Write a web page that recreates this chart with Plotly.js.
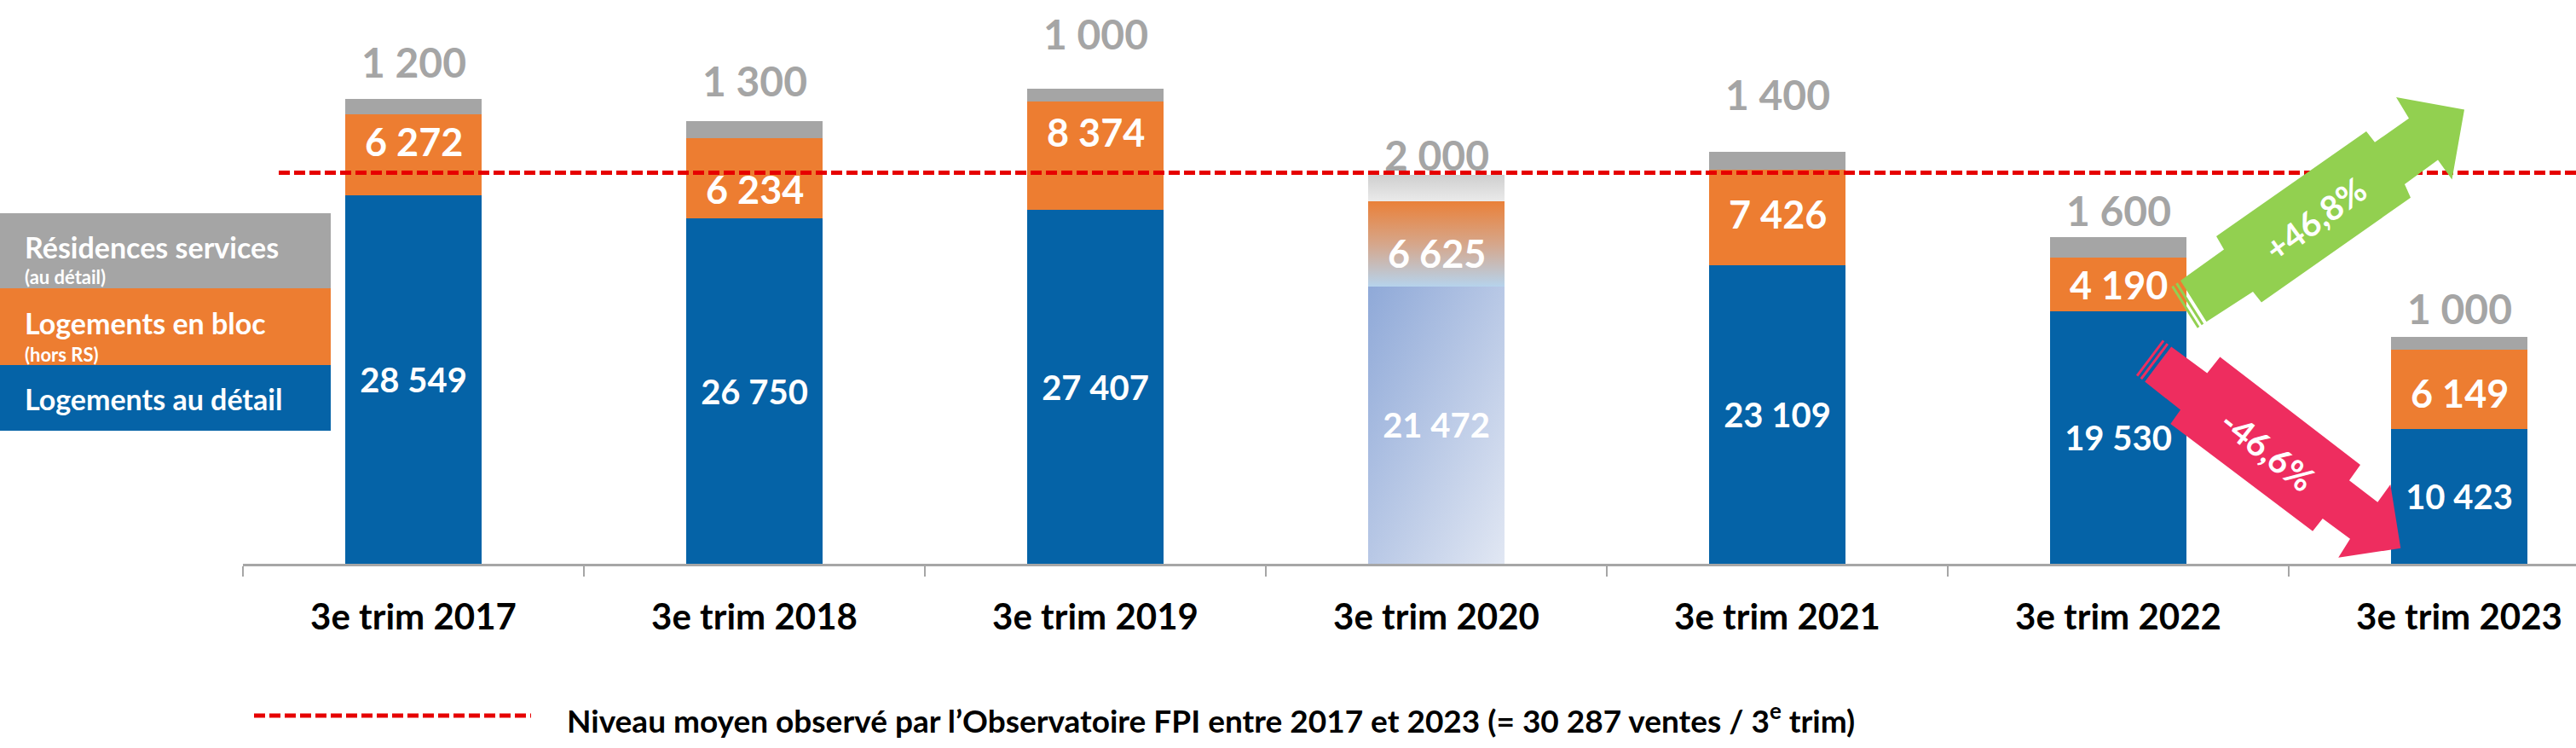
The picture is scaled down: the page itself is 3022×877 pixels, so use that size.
<!DOCTYPE html>
<html>
<head>
<meta charset="utf-8">
<script src="https://cdn.plot.ly/plotly-3.0.1.min.js"></script>
<style>
  html, body { margin: 0; padding: 0; background: #fff; }
  #chart { width: 3022px; height: 877px; }
</style>
</head>
<body>
<div id="chart"></div>
<script>
// Ventes du 3e trimestre par type (Observatoire FPI)
const CATEGORIES = ['3e trim 2017', '3e trim 2018', '3e trim 2019', '3e trim 2020', '3e trim 2021', '3e trim 2022', '3e trim 2023'];
const DETAIL = [28549, 26750, 27407, 21472, 23109, 19530, 10423];   // Logements au détail
const BLOC = [6272, 6234, 8374, 6625, 7426, 4190, 6149];            // Logements en bloc (hors RS)
const RS = [1200, 1300, 1000, 2000, 1400, 1600, 1000];              // Résidences services
const AVG = 30287;
const CHANGE_UP = '+46,8%';
const CHANGE_DOWN = '-46,6%';
const FADED = '3e trim 2020';

const FONT = 'Lato, "Liberation Sans", sans-serif';
const BLUE = '#0563A7', ORANGE = '#ED7D31', GREY = '#A5A5A5';

// page geometry (pixels)
const W = 3022, H = 877;
const ML = 285, BASE = 661;         // left margin, y of the x axis
const PW = W - ML;
const Y_MAX = BASE / 0.01514;

// label nudges, in pixels (as placed on the original)
const GREY_SHIFT = [43, 47, 65, 24, 67, 31, 33];
const ORANGE_SHIFT = [15, -13, 28, -11, 4, 0, -4];

function fmt(n) {
    return String(n).replace(/\B(?=(\d{3})+(?!\d))/g, ' ');
}
function px(x) { return (x - ML) / PW; }
function py(y) { return (BASE - y) / BASE; }
function pathOf(pts) {
    return 'M' + pts.map(p => px(p[0]).toFixed(5) + ',' + py(p[1]).toFixed(5)).join('L') + 'Z';
}
function stripe(a, b, dir, off, w) {
    const s = (p, k) => [p[0] - dir[0] * k, p[1] - dir[1] * k];
    return [s(a, off), s(b, off), s(b, off + w), s(a, off + w)];
}

const totals = DETAIL.map((d, i) => d + BLOC[i] + RS[i]);

var data = [
    {
        type: 'bar', x: CATEGORIES, y: DETAIL, name: 'Logements au détail',
        marker: { color: BLUE, line: { width: 0 } },
        text: DETAIL.map(fmt), textposition: 'inside', insidetextanchor: 'middle',
        textfont: { family: FONT, size: 40, color: '#fff', weight: 700 },
        constraintext: 'none', hoverinfo: 'none'
    },
    {
        type: 'bar', x: CATEGORIES, y: BLOC, name: 'Logements en bloc',
        marker: { color: ORANGE, line: { width: 0 } }, hoverinfo: 'none'
    },
    {
        type: 'bar', x: CATEGORIES, y: RS, name: 'Résidences services',
        marker: { color: GREY, line: { width: 0 } }, hoverinfo: 'none'
    }
];

var annotations = [];
CATEGORIES.forEach((c, i) => {
    annotations.push({
        x: c, y: DETAIL[i] + BLOC[i] / 2, xref: 'x', yref: 'y',
        text: fmt(BLOC[i]), showarrow: false, xanchor: 'center', yanchor: 'middle', yshift: ORANGE_SHIFT[i],
        font: { family: FONT, size: 45, color: '#fff', weight: 700 }
    });
    annotations.push({
        x: c, y: totals[i], xref: 'x', yref: 'y',
        text: fmt(RS[i]), showarrow: false, xanchor: 'center', yanchor: 'middle', yshift: GREY_SHIFT[i],
        font: { family: FONT, size: 48, color: GREY, weight: 700 }
    });
});

// legend box on the left
const legendRows = [
    { text: 'Résidences services', y: 289, size: 34 },
    { text: '(au détail)', y: 324, size: 22 },
    { text: 'Logements en bloc', y: 378, size: 34 },
    { text: '(hors RS)', y: 415, size: 22 },
    { text: 'Logements au détail', y: 467, size: 34 }
];
legendRows.forEach(r => annotations.push({
    x: px(27), y: py(r.y), xref: 'paper', yref: 'paper', xanchor: 'left', yanchor: 'middle',
    text: r.text, showarrow: false,
    font: { family: FONT, size: r.size, color: '#fff', weight: 700 }
}));

// bottom legend for the average line
annotations.push({
    x: px(663), y: py(842), xref: 'paper', yref: 'paper', xanchor: 'left', yanchor: 'middle',
    text: 'Niveau moyen observé par l’Observatoire FPI entre 2017 et 2023 (= ' + fmt(AVG) + ' ventes / 3<sup>e</sup> trim)',
    showarrow: false, font: { family: FONT, size: 37, color: '#000', weight: 700 }
});

// change arrows 2022 -> 2023
const GREEN_PTS = [[2558, 329], [2609, 292.6], [2600, 277], [2776, 154], [2786, 166.8], [2826, 138.7], [2811, 114],
    [2891, 128.5], [2876.5, 210.6], [2860, 187.6], [2821, 216], [2828, 231.7], [2653, 354.6], [2643, 341.9], [2588.5, 377.3]];
const PINK_PTS = [[2547.2, 406.4], [2589.3, 437.4], [2604.4, 418.5], [2769, 545], [2756, 563.2], [2789.3, 588.8], [2804.3, 568],
    [2816.3, 642.8], [2743.2, 653.7], [2757, 631.8], [2724.8, 608.1], [2713.1, 622.7], [2546.3, 496.9], [2558, 480.5], [2516.2, 447.6]];
const GREEN_DIR = [0.8197, -0.5729], PINK_DIR = [0.7929, 0.6093];

annotations.push({
    x: px(2716), y: py(257), xref: 'paper', yref: 'paper', xanchor: 'center', yanchor: 'middle',
    text: CHANGE_UP, showarrow: false,
    textangle: -36, font: { family: FONT, size: 40, color: '#fff', weight: 700 }
});
annotations.push({
    x: px(2660), y: py(528), xref: 'paper', yref: 'paper', xanchor: 'center', yanchor: 'middle',
    text: CHANGE_DOWN, showarrow: false,
    textangle: 38, font: { family: FONT, size: 40, color: '#fff', weight: 700 }
});

function box(y0, y1, color) {
    return { type: 'rect', xref: 'paper', yref: 'paper', x0: px(0), x1: px(388), y0: py(y1), y1: py(y0),
        fillcolor: color, line: { width: 0 }, layer: 'above' };
}
function poly(pts, color) {
    return { type: 'path', xref: 'paper', yref: 'paper', path: pathOf(pts), fillcolor: color, line: { width: 0 }, layer: 'above' };
}

var shapes = [
    box(250, 338, GREY), box(338, 428, ORANGE), box(428, 505, BLUE),
    {
        type: 'line', xref: 'paper', yref: 'y', x0: px(327), x1: 1, y0: AVG, y1: AVG,
        line: { color: '#E60000', width: 5, dash: '13px,5px' }, layer: 'above'
    },
    {
        type: 'line', xref: 'paper', yref: 'paper', x0: px(298), x1: px(623), y0: py(839), y1: py(839),
        line: { color: '#E60000', width: 5, dash: '13px,5px' }
    },
    poly(GREEN_PTS, '#92D050'),
    poly(stripe(GREEN_PTS[0], GREEN_PTS[14], GREEN_DIR, 4, 3), '#92D050'),
    poly(stripe(GREEN_PTS[0], GREEN_PTS[14], GREEN_DIR, 10, 3), '#92D050'),
    poly(PINK_PTS, '#EE2D5F'),
    poly(stripe(PINK_PTS[14], PINK_PTS[0], PINK_DIR, 4, 3), '#EE2D5F'),
    poly(stripe(PINK_PTS[14], PINK_PTS[0], PINK_DIR, 10, 3), '#EE2D5F')
];

var layout = {
    width: W, height: H,
    margin: { l: ML, r: 0, t: 0, b: H - BASE, pad: 0 },
    paper_bgcolor: '#fff', plot_bgcolor: '#fff',
    barmode: 'stack', bargap: 0.6,
    showlegend: false,
    xaxis: {
        type: 'category', range: [-0.5, -0.5 + PW / 400], tickson: 'boundaries',
        ticks: 'outside', ticklen: 12, tickwidth: 2, tickcolor: '#A6A6A6',
        showline: true, linecolor: '#A6A6A6', linewidth: 3, showgrid: false, zeroline: false,
        ticklabelstandoff: 24,
        tickfont: { family: FONT, size: 42, color: '#000', weight: 700 }
    },
    yaxis: { range: [0, Y_MAX], visible: false, fixedrange: true },
    annotations: annotations,
    shapes: shapes
};

// the 2020 column is drawn faded with gradients, as on the original
function addGradients(gd) {
    const NS = 'http://www.w3.org/2000/svg';
    const svg = gd.querySelector('.main-svg');
    let defs = svg.querySelector('defs');
    const grads = [
        { id: 'g2020blue', x2: 1, y2: 1, stops: [['0', '#8FA9D8'], ['1', '#E1E7F3']] },
        { id: 'g2020orange', x2: 0, y2: 1, stops: [['0', '#EA8038'], ['0.5', '#D6A68A'], ['1', '#B6D3EC']] },
        { id: 'g2020grey', x2: 0, y2: 1, stops: [['0', '#CFCFCF'], ['1', '#EAEAEA']] }
    ];
    grads.forEach(g => {
        const lg = document.createElementNS(NS, 'linearGradient');
        lg.setAttribute('id', g.id);
        lg.setAttribute('x1', 0); lg.setAttribute('y1', 0);
        lg.setAttribute('x2', g.x2); lg.setAttribute('y2', g.y2);
        g.stops.forEach(s => {
            const st = document.createElementNS(NS, 'stop');
            st.setAttribute('offset', s[0]);
            st.setAttribute('stop-color', s[1]);
            lg.appendChild(st);
        });
        defs.appendChild(lg);
    });
    const idx = CATEGORIES.indexOf(FADED);
    gd.querySelectorAll('.barlayer .trace').forEach((tr, t) => {
        const paths = tr.querySelectorAll('.point path');
        if (paths[idx]) paths[idx].style.fill = 'url(#' + grads[t].id + ')';
    });
}

Plotly.newPlot('chart', data, layout, { staticPlot: true }).then(addGradients);
</script>
</body>
</html>
